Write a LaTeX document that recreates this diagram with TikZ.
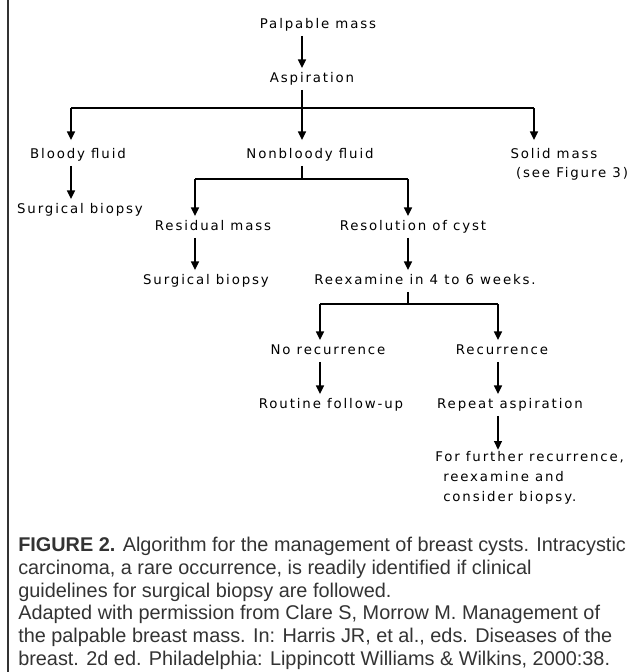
\documentclass[tikz,border=0pt]{standalone}
\usepackage{fontspec}
\setmainfont{Liberation Sans}
\newfontfamily\flowfont[LetterSpace=14]{DejaVu Sans}
\usepackage{xcolor}
\usepackage{tikz}
\usetikzlibrary{arrows.meta, positioning}
\definecolor{captiongray}{HTML}{333333}

\begin{document}
\begin{tikzpicture}[x=0.75pt, y=-0.75pt,
    txt/.style={font=\flowfont\fontsize{10}{12}\selectfont, inner xsep=0pt, inner ysep=3pt,
                text height=7.5pt, text depth=2.5pt},
    arr/.style={-{Triangle[width=6pt,length=6.5pt]}, line width=1pt},
    link/.style={line width=1pt}]
    \useasboundingbox (0,0) rectangle (631,672);
    \draw[line width=1.2pt, captiongray] (8,0) -- (8,672);

    % junctions of the branches
    \coordinate (j0) at (302,108);
    \coordinate (j0l) at (71,108);
    \coordinate (j0r) at (534,108);
    \coordinate (j1) at (302,179);
    \coordinate (j1l) at (195,179);
    \coordinate (j1r) at (408,179);
    \coordinate (j2) at (408,304);
    \coordinate (j2l) at (320,304);
    \coordinate (j2r) at (498,304);

    \node[txt] (pm)   at (318,25)  {Palpable mass};
    \node[txt] (asp)  at (312,79)  {Aspiration};
    \node[txt] (bf)   at (78,155)  {Bloody fluid};
    \node[txt] (sb1)  at (80,210)  {Surgical biopsy};
    \node[txt] (nbf)  at (310,155) {Nonbloody fluid};
    \node[txt] (sm)   at (554,155) {Solid mass};
    \node[txt] (smref) at (572,174) {(see Figure 3)};
    \node[txt] (rm)   at (213,227) {Residual mass};
    \node[txt] (sb2)  at (206,281) {Surgical biopsy};
    \node[txt] (rc)   at (413,227) {Resolution of cyst};
    \node[txt] (rex)  at (425,281) {Reexamine in 4 to 6 weeks.};
    \node[txt] (nr)   at (328,351) {No recurrence};
    \node[txt] (rec)  at (502,351) {Recurrence};
    \node[txt] (rfu)  at (331,405) {Routine follow-up};
    \node[txt] (ra)   at (510,405) {Repeat aspiration};
    \node[txt, align=left, anchor=north west, text height=, text depth=, inner ysep=0pt,
          font=\flowfont\fontsize{10}{15}\selectfont] (ffr) at (435,451)
          {For further recurrence,\\\hspace*{6pt}reexamine and\\\hspace*{6pt}consider biopsy.};

    \draw[arr] (pm.south -| j0) -- (asp.north -| j0);
    \draw[link] (asp.south -| j0) -- (j0);
    \draw[link] (j0l) -- (j0r);
    \draw[arr] (j0l) -- ([yshift=3pt]bf.north -| j0l);
    \draw[arr] (j0) -- ([yshift=3pt]nbf.north -| j0);
    \draw[arr] (j0r) -- ([yshift=3pt]sm.north -| j0r);
    \draw[arr] (bf.south -| j0l) -- (sb1.north -| j0l);

    \draw[link] (nbf.south -| j1) -- (j1);
    \draw[link] (j1l) -- (j1r);
    \draw[arr] (j1l) -- (rm.north -| j1l);
    \draw[arr] (j1r) -- (rc.north -| j1r);
    \draw[arr] (rm.south -| j1l) -- (sb2.north -| j1l);
    \draw[arr] (rc.south -| j2) -- (rex.north -| j2);

    \draw[link] (rex.south -| j2) -- (j2);
    \draw[link] (j2l) -- (j2r);
    \draw[arr] (j2l) -- (nr.north -| j2l);
    \draw[arr] (j2r) -- (rec.north -| j2r);
    \draw[arr] (nr.south -| j2l) -- (rfu.north -| j2l);
    \draw[arr] (rec.south -| j2r) -- (ra.north -| j2r);
    \draw[arr] (ra.south -| j2r) -- ([yshift=1pt]ffr.north -| j2r);

    % caption
    \node[anchor=north west, align=left, inner sep=0pt, text=captiongray,
          font=\fontsize{14.9}{17}\selectfont] (cap) at (18,537)
          {\textbf{FIGURE 2.} Algorithm for the management of breast cysts. Intracystic\\
           carcinoma, a rare occurrence, is readily identified if clinical\\
           guidelines for surgical biopsy are followed.\\
           Adapted with permission from Clare S, Morrow M. Management of\\
           the palpable breast mass. In: Harris JR, et al., eds. Diseases of the\\
           breast. 2d ed. Philadelphia: Lippincott Williams \& Wilkins, 2000:38.};
\end{tikzpicture}
\end{document}
